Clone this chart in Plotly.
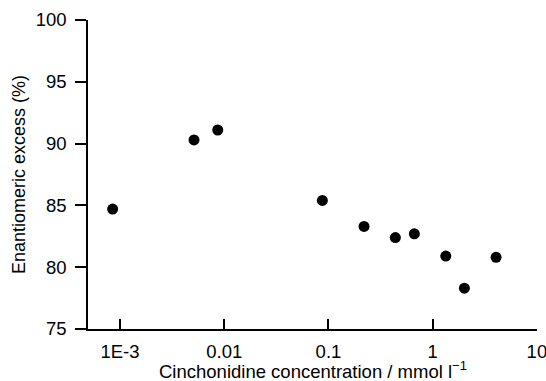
import plotly.graph_objects as go

concentration = [0.00085, 0.00513, 0.00867, 0.0874, 0.2196, 0.4385, 0.6675, 1.336, 2.015, 4.06]
ee_percent = [84.7, 90.3, 91.1, 85.4, 83.3, 82.4, 82.7, 80.9, 78.3, 80.8]

x_tickvals = [0.001, 0.01, 0.1, 1, 10]
x_ticktext = ["1E-3", "0.01", "0.1", "1", "10"]
y_tickvals = [75, 80, 85, 90, 95, 100]

font_family = "Liberation Sans, Arial, sans-serif"
fs = 18.5

fig = go.Figure()
fig.add_trace(go.Scatter(
    x=concentration, y=ee_percent, mode="markers",
    marker=dict(color="black", size=11, line=dict(width=0)),
    showlegend=False, cliponaxis=False, hoverinfo="skip",
))

fig.update_layout(
    width=546, height=381,
    margin=dict(l=88, r=9, t=20, b=52),
    paper_bgcolor="white", plot_bgcolor="white",
    font=dict(family=font_family, color="black", size=fs),
    annotations=[dict(
        text="Cinchonidine concentration / mmol l<sup>−1</sup>",
        xref="paper", yref="paper", x=0.5, y=-0.133,
        xanchor="center", yanchor="middle", showarrow=False,
        font=dict(size=fs),
    )],
)
fig.update_xaxes(
    type="log", range=[-3.307, 1.001],
    tickvals=x_tickvals, ticktext=x_ticktext,
    ticks="inside", ticklen=10, tickwidth=1.5, tickcolor="black",
    showline=True, linecolor="black", linewidth=1.5,
    showgrid=False, zeroline=False, automargin=False,
    tickfont=dict(size=fs), ticklabelstandoff=5,
    ticklabeloverflow="allow",
)
fig.update_yaxes(
    range=[75, 100],
    tickvals=y_tickvals,
    ticks="outside", ticklen=11, tickwidth=1.5, tickcolor="black",
    showline=True, linecolor="black", linewidth=1.5,
    showgrid=False, zeroline=False, automargin=False,
    tickfont=dict(size=fs), ticklabelstandoff=5,
    title=dict(text="Enantiomeric excess (%)", font=dict(size=18), standoff=5),
)

fig.write_html("out.html", config={"displayModeBar": False},
               post_script="document.body.style.margin='0';")
